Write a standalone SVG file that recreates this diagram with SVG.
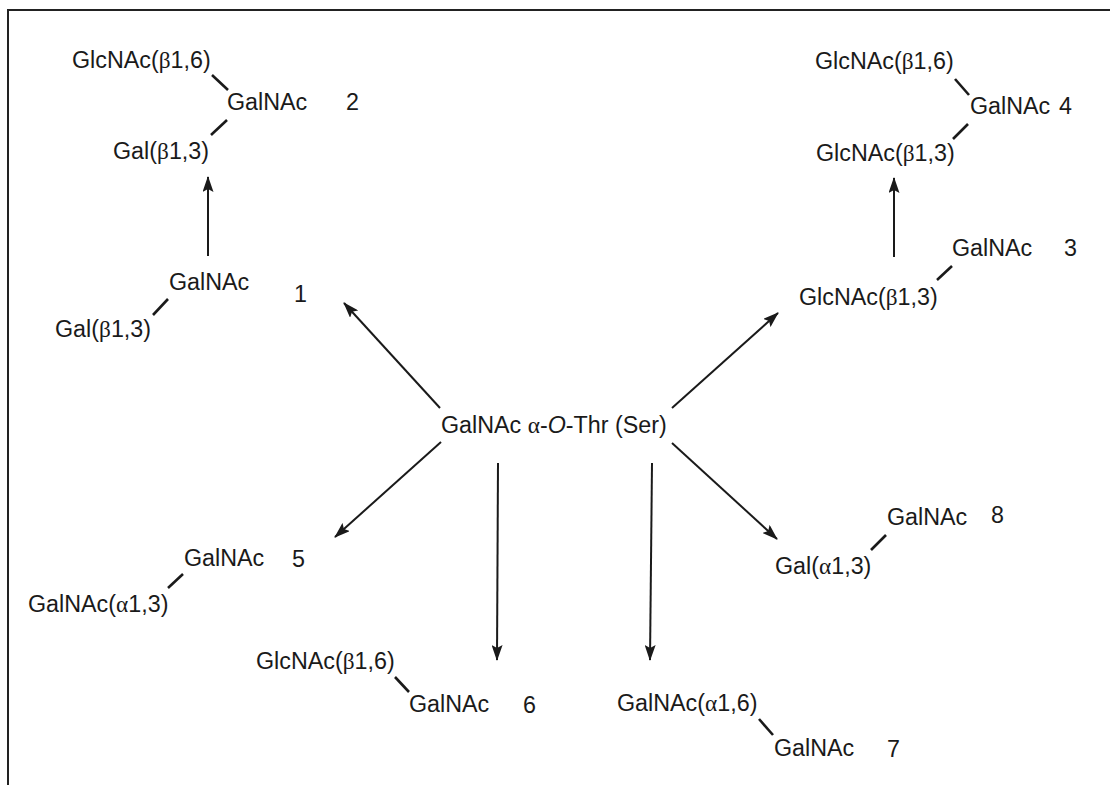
<svg xmlns="http://www.w3.org/2000/svg" width="1110" height="785" viewBox="0 0 1110 785">
  <style>
    text { font-family: "Liberation Sans", Arial, sans-serif; font-size: 23.3px; fill: #1a1a1a; }
    .gr { font-family: "Liberation Serif", "Times New Roman", serif; }
    .it { font-style: italic; }
    .bond { stroke: #1a1a1a; stroke-width: 2.6; stroke-linecap: butt; fill: none; }
    .arrow { stroke: #1a1a1a; stroke-width: 2; fill: none; marker-end: url(#head); }
    .frame { stroke: #222; stroke-width: 2; fill: none; }
  </style>
  <defs>
    <marker id="head" viewBox="0 0 16 11" refX="15" refY="5.5" markerWidth="16" markerHeight="11" markerUnits="userSpaceOnUse" orient="auto">
      <path d="M0,0 L16,5.5 L0,11 L3,5.5 z" fill="#1a1a1a"/>
    </marker>
  </defs>

  <rect width="1110" height="785" fill="#ffffff"/>
  <!-- open frame: top and left edges -->
  <path class="frame" d="M8,785 V10 H1110"/>

  <!-- centre: core residue -->
  <g id="core">
    <text x="441" y="433">GalNAc <tspan class="gr">α</tspan>-<tspan class="it">O</tspan>-Thr (Ser)</text>
  </g>

  <!-- structure 1 -->
  <g id="n1">
    <text x="169" y="290">GalNAc</text>
    <text x="294" y="302">1</text>
    <line class="bond" x1="168" y1="299" x2="153" y2="315"/>
    <text x="55" y="337">Gal(<tspan class="gr">β</tspan>1,3)</text>
  </g>

  <!-- structure 2 -->
  <g id="n2">
    <text x="72" y="68">GlcNAc(<tspan class="gr">β</tspan>1,6)</text>
    <line class="bond" x1="212" y1="75" x2="228" y2="90"/>
    <text x="227" y="110">GalNAc</text>
    <text x="346" y="110">2</text>
    <line class="bond" x1="227" y1="120" x2="211" y2="135"/>
    <text x="113" y="159">Gal(<tspan class="gr">β</tspan>1,3)</text>
  </g>

  <!-- structure 3 -->
  <g id="n3">
    <text x="952" y="256">GalNAc</text>
    <text x="1064" y="256">3</text>
    <line class="bond" x1="952" y1="266" x2="937" y2="280"/>
    <text x="799" y="305">GlcNAc(<tspan class="gr">β</tspan>1,3)</text>
  </g>

  <!-- structure 4 -->
  <g id="n4">
    <text x="815" y="69">GlcNAc(<tspan class="gr">β</tspan>1,6)</text>
    <line class="bond" x1="955" y1="79" x2="969" y2="95"/>
    <text x="970" y="114">GalNAc</text>
    <text x="1059" y="114">4</text>
    <line class="bond" x1="968" y1="124" x2="953" y2="139"/>
    <text x="816" y="161">GlcNAc(<tspan class="gr">β</tspan>1,3)</text>
  </g>

  <!-- structure 5 -->
  <g id="n5">
    <text x="184" y="566">GalNAc</text>
    <text x="292" y="567">5</text>
    <line class="bond" x1="183" y1="574" x2="168" y2="588"/>
    <text x="28" y="612">GalNAc(<tspan class="gr">α</tspan>1,3)</text>
  </g>

  <!-- structure 6 -->
  <g id="n6">
    <text x="256" y="669">GlcNAc(<tspan class="gr">β</tspan>1,6)</text>
    <line class="bond" x1="395" y1="677" x2="409" y2="692"/>
    <text x="409" y="712">GalNAc</text>
    <text x="523" y="713">6</text>
  </g>

  <!-- structure 7 -->
  <g id="n7">
    <text x="617" y="711">GalNAc(<tspan class="gr">α</tspan>1,6)</text>
    <line class="bond" x1="759" y1="719" x2="773" y2="735"/>
    <text x="774" y="756">GalNAc</text>
    <text x="887" y="757">7</text>
  </g>

  <!-- structure 8 -->
  <g id="n8">
    <text x="887" y="525">GalNAc</text>
    <text x="991" y="523">8</text>
    <line class="bond" x1="886" y1="535" x2="871" y2="550"/>
    <text x="775" y="574">Gal(<tspan class="gr">α</tspan>1,3)</text>
  </g>

  <!-- reaction arrows -->
  <g id="connectors">
    <line class="arrow" x1="440" y1="408" x2="344" y2="303"/>
    <line class="arrow" x1="208" y1="256" x2="208" y2="177"/>
    <line class="arrow" x1="672" y1="408" x2="778" y2="313"/>
    <line class="arrow" x1="894" y1="257" x2="894" y2="178"/>
    <line class="arrow" x1="441" y1="442" x2="335" y2="537"/>
    <line class="arrow" x1="498" y1="463" x2="497" y2="660"/>
    <line class="arrow" x1="652" y1="463" x2="650" y2="660"/>
    <line class="arrow" x1="672" y1="443" x2="777" y2="539"/>
  </g>
</svg>
